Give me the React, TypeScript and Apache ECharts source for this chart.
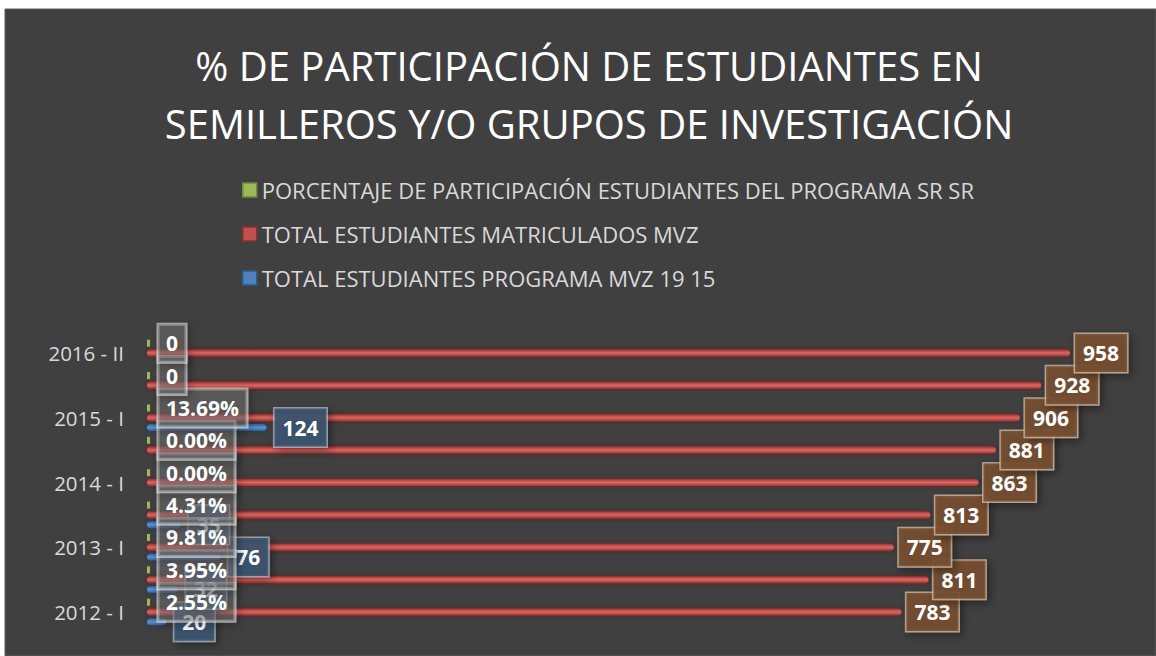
import React, { useEffect, useRef } from "react";
import * as echarts from "echarts";

const categories = [
  "2012 - I",
  "2012 - II",
  "2013 - I",
  "2013 - II",
  "2014 - I",
  "2014 - II",
  "2015 - I",
  "2015 - II",
  "2016 - II",
];
const pctValues = [0.0255, 0.0395, 0.0981, 0.0431, 0, 0, 0.1369, 0, 0];
const pctLabels = ["2.55%", "3.95%", "9.81%", "4.31%", "0.00%", "0.00%", "13.69%", "0", "0"];
const enrolledValues = [783, 811, 775, 813, 863, 881, 906, 928, 958];
const programValues: (number | null)[] = [20, 32, 76, 35, null, null, 124, null, null];

const seriesNames = [
  "PORCENTAJE DE PARTICIPACIÓN ESTUDIANTES DEL PROGRAMA SR SR",
  "TOTAL ESTUDIANTES MATRICULADOS MVZ",
  "TOTAL ESTUDIANTES PROGRAMA MVZ 19 15",
];
const titleText = "% DE PARTICIPACIÓN DE ESTUDIANTES EN\nSEMILLEROS Y/O GRUPOS DE INVESTIGACIÓN";

const FONT = '"Open Sans", sans-serif';

export default function App() {
  const ref = useRef<HTMLDivElement>(null);
  useEffect(() => {
    if (!ref.current) return;
    const chart = echarts.init(ref.current, null, { renderer: "svg" });
    const labelBase = {
      show: true,
      position: "right" as const,
      color: "#ffffff",
      fontFamily: FONT,
      fontWeight: "bold" as const,
      fontSize: 21,
      lineHeight: 24,
      padding: [7, 8, 7, 8],
      borderWidth: 1.5,
      shadowBlur: 8,
      shadowOffsetX: 3,
      shadowOffsetY: 3,
      shadowColor: "rgba(0,0,0,0.45)",
    };
    const option: any = {
      animation: false,
      backgroundColor: "#ffffff",
      textStyle: { fontFamily: FONT },
      title: {
        text: titleText,
        left: 584,
        top: 31,
        textAlign: "center",
        textStyle: {
          color: "#ffffff",
          fontFamily: FONT,
          fontWeight: "normal",
          fontSize: 40,
          lineHeight: 58,
        },
      },
      graphic: [
        {
          type: "rect",
          z: -10,
          shape: { x: 5, y: 9, width: 1151, height: 647 },
          style: { fill: "#404040", stroke: "#5c5c5c", lineWidth: 1 },
        },
      ],
      legend: {
        orient: "vertical",
        left: 242,
        top: 179,
        padding: 0,
        itemWidth: 14,
        itemHeight: 14,
        itemGap: 22,
        icon: "rect",
        textStyle: { color: "#d9d9d9", fontFamily: FONT, fontSize: 22 },
        data: [
          { name: seriesNames[0], itemStyle: { color: "#9bbb59", borderColor: "#6f8a3c", borderWidth: 1.5 } },
          { name: seriesNames[1], itemStyle: { color: "#c0504d", borderColor: "#8c2f2c", borderWidth: 1.5 } },
          { name: seriesNames[2], itemStyle: { color: "#4f81bd", borderColor: "#2f5a8c", borderWidth: 1.5 } },
        ],
      },
      grid: { left: 147, right: 45.5, top: 336.8, bottom: 27.8, containLabel: false },
      xAxis: {
        type: "value",
        min: 0,
        max: 1000,
        show: false,
      },
      yAxis: {
        type: "category",
        data: categories,
        axisLine: { show: false },
        axisTick: { show: false },
        axisLabel: {
          interval: 1,
          color: "#d9d9d9",
          fontFamily: FONT,
          fontSize: 20.5,
          margin: 23,
        },
      },
      series: [
        {
          name: seriesNames[0],
          type: "bar",
          z: 5,
          data: pctValues,
          barWidth: 7,
          barGap: "40%",
          barMinHeight: 3,
          itemStyle: { color: "#9bbb59" },
          label: {
            ...labelBase,
            distance: 8,
            backgroundColor: "rgba(120,120,120,0.45)",
            borderColor: "rgba(225,225,225,0.6)",
            formatter: (p: any) => pctLabels[p.dataIndex],
          },
        },
        {
          name: seriesNames[1],
          type: "bar",
          z: 2,
          data: enrolledValues,
          barWidth: 7,
          barGap: "40%",
          itemStyle: {
            borderRadius: 3.5,
            color: new echarts.graphic.LinearGradient(0, 0, 0, 1, [
              { offset: 0, color: "#9a3532" },
              { offset: 0.5, color: "#de6764" },
              { offset: 1, color: "#9a3532" },
            ]),
            shadowBlur: 4,
            shadowColor: "rgba(110,20,20,0.8)",
          },
          label: {
            ...labelBase,
            distance: 5,
            backgroundColor: "rgba(118,78,48,0.92)",
            borderColor: "rgba(215,190,165,0.75)",
          },
        },
        {
          name: seriesNames[2],
          type: "bar",
          z: 3,
          data: programValues,
          barWidth: 7,
          barGap: "40%",
          itemStyle: {
            borderRadius: 3.5,
            color: new echarts.graphic.LinearGradient(0, 0, 0, 1, [
              { offset: 0, color: "#2f5f96" },
              { offset: 0.5, color: "#5f92d0" },
              { offset: 1, color: "#2f5f96" },
            ]),
            shadowBlur: 4,
            shadowColor: "rgba(20,50,90,0.8)",
          },
          label: {
            ...labelBase,
            distance: 8,
            backgroundColor: "rgba(58,84,112,0.9)",
            borderColor: "rgba(200,210,225,0.6)",
          },
        },
      ],
    };
    chart.setOption(option);
    return () => chart.dispose();
  }, []);
  return (
    <div
      ref={ref}
      style={{ position: "fixed", left: 0, top: 0, width: 1156, height: 656 }}
    />
  );
}
